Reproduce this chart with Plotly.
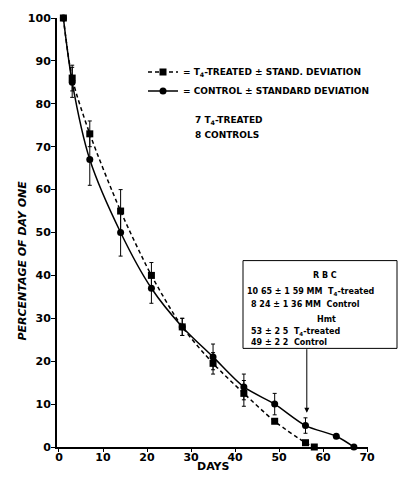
import plotly.graph_objects as go

# ---- data ----
treated_days = [1, 3, 7, 14, 21, 28, 35, 42, 49, 56, 58]
treated_pct = [100, 86, 73, 55, 40, 28, 19.5, 12.5, 6, 1, 0]
treated_sd = [0, 3, 3, 5, 3, 2, 2.5, 3, 0, 0, 0]

control_days = [1, 3, 7, 14, 21, 28, 35, 42, 49, 56, 63, 67]
control_pct = [100, 85, 67, 50, 37, 28, 21, 14, 10, 5, 2.5, 0]
control_sd = [0, 3.5, 6, 5.5, 3.5, 2, 3, 3, 2.5, 1.8, 0, 0]

x_ticks = [0, 10, 20, 30, 40, 50, 60, 70]
y_ticks = [0, 10, 20, 30, 40, 50, 60, 70, 80, 90, 100]

W, H = 401, 479
L, R, T, B = 57, 33, 12, 32
PW, PH = W - L - R, H - T - B


def px(xp):
    return (xp - L) / PW


def py(yp):
    return 1 - (yp - T) / PH


FONT = "DejaVu Sans"

fig = go.Figure()
fig.add_trace(go.Scatter(
    x=treated_days, y=treated_pct, mode="lines+markers",
    name="= T<sub>4</sub>-TREATED ± STAND. DEVIATION",
    line=dict(color="black", width=1.5, dash="4px,3px", shape="spline", smoothing=0.8),
    marker=dict(symbol="square", size=7, color="black"),
    error_y=dict(type="data", array=treated_sd, color="black", thickness=1, width=2),
    cliponaxis=False,
))
fig.add_trace(go.Scatter(
    x=control_days, y=control_pct, mode="lines+markers",
    name="= CONTROL ± STANDARD DEVIATION",
    line=dict(color="black", width=1.5, shape="spline", smoothing=0.8),
    marker=dict(symbol="circle", size=7, color="black"),
    error_y=dict(type="data", array=control_sd, color="black", thickness=1, width=2),
    cliponaxis=False,
))

fig.update_layout(
    width=W, height=H,
    margin=dict(l=L, r=R, t=T, b=B),
    paper_bgcolor="white", plot_bgcolor="white",
    font=dict(family=FONT, color="black"),
    showlegend=True,
    legend=dict(x=px(143), y=py(52), xanchor="left", yanchor="top",
                bgcolor="rgba(0,0,0,0)", font=dict(size=9, family=FONT, weight="bold"),
                tracegroupgap=2, itemwidth=30),
    xaxis=dict(range=[-0.45, 70.2], tickvals=x_ticks, showline=True, linecolor="black",
               linewidth=2, ticks="outside", ticklen=3, tickcolor="black", showgrid=False,
               zeroline=False, ticklabelstandoff=-4,
               tickfont=dict(size=11, family=FONT, weight="bold")),
    yaxis=dict(range=[0, 100], tickvals=y_ticks, showline=True, linecolor="black",
               linewidth=2, ticks="outside", ticklen=4, tickcolor="black", showgrid=False,
               zeroline=False, ticklabelstandoff=-2,
               tickfont=dict(size=11, family=FONT, weight="bold")),
)

ann = []
ann.append(dict(x=px(23), y=py(258), xref="paper", yref="paper", xanchor="center", yanchor="middle",
                text="<b><i>PERCENTAGE OF DAY ONE</i></b>",
                textangle=-90, showarrow=False, font=dict(size=11)))
ann.append(dict(x=px(213), y=py(467), xref="paper", yref="paper", xanchor="center", yanchor="middle",
                text="<b>DAYS</b>", showarrow=False, font=dict(size=11)))
ann.append(dict(x=px(193), y=py(116), xref="paper", yref="paper", xanchor="left", yanchor="middle",
                text="<b>7 T<sub>4</sub>-TREATED</b>", showarrow=False, font=dict(size=9)))
ann.append(dict(x=px(193), y=py(131), xref="paper", yref="paper", xanchor="left", yanchor="middle",
                text="<b>8 CONTROLS</b>", showarrow=False, font=dict(size=9)))

box_lines = [
    (325, 273, "center", "<b>R B C</b>"),
    (245, 290, "left", "<b>10 65 ± 1 59 MM  T<sub>4</sub>-treated</b>"),
    (249, 302, "left", "<b>8 24 ± 1 36 MM  Control</b>"),
    (326, 318, "center", "<b>Hmt</b>"),
    (249, 330, "left", "<b>53 ± 2 5  T<sub>4</sub>-treated</b>"),
    (249, 341, "left", "<b>49 ± 2 2  Control</b>"),
]
for xp, yp, anc, txt in box_lines:
    ann.append(dict(x=px(xp), y=py(yp), xref="paper", yref="paper", xanchor=anc, yanchor="middle",
                    text=txt, showarrow=False, font=dict(size=8)))

# arrow from box to day-56 control point
ann.append(dict(x=56.3, y=8, xref="x", yref="y", text="", showarrow=True,
                ax=0, ay=-65, arrowhead=2, arrowsize=1, arrowwidth=1, arrowcolor="black"))
fig.update_layout(annotations=ann)

fig.add_shape(type="rect", xref="paper", yref="paper",
              x0=px(243), x1=px(397), y0=py(347), y1=py(258),
              line=dict(color="black", width=1))

fig.write_html("out.html")
